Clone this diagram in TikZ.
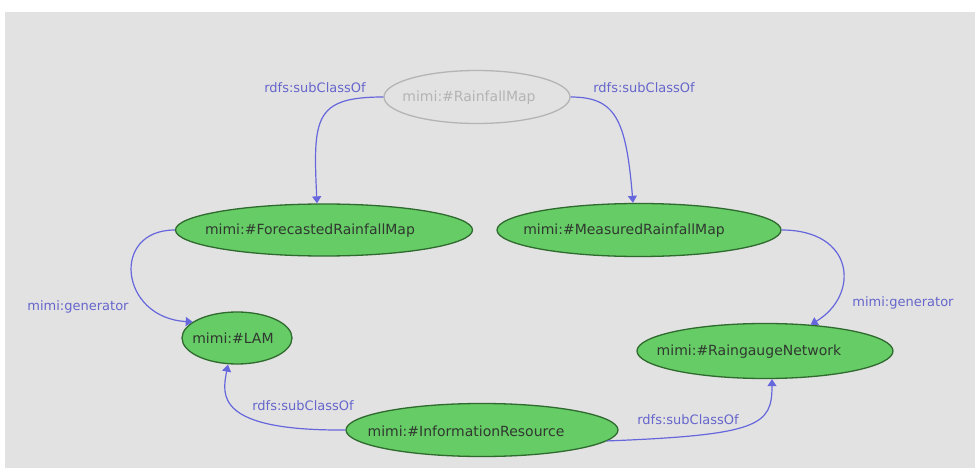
\documentclass[tikz,border=0pt]{standalone}
\usepackage{fontspec}
\setmainfont{DejaVu Sans}
\usetikzlibrary{shapes.geometric,arrows.meta}
\definecolor{bggray}{HTML}{E2E2E2}
\definecolor{nodegreen}{HTML}{66CC66}
\definecolor{nodeborder}{HTML}{2F6A2F}
\definecolor{edgeblue}{HTML}{6666DD}
\definecolor{labelblue}{HTML}{6666CC}
\definecolor{ghost}{HTML}{B4B4B4}
\definecolor{nodetext}{HTML}{303830}
\tikzset{
  gnode/.style={ellipse, draw=nodeborder, fill=nodegreen, line width=1.3pt, inner sep=0pt},
  hnode/.style={ellipse, draw=ghost, fill=bggray, line width=1.3pt, inner sep=0pt},
  ntext/.style={inner sep=0pt, text=nodetext, font=\fontsize{14}{16}\selectfont},
  htext/.style={inner sep=0pt, text=ghost, font=\fontsize{14}{16}\selectfont},
  elabel/.style={inner sep=0pt, text=labelblue, font=\fontsize{13}{15}\selectfont},
  edge/.style={draw=edgeblue, line width=1.2pt, -{Triangle[length=7pt,width=9pt]}}
}
\begin{document}
\begin{tikzpicture}[x=1pt,y=-1pt]
\useasboundingbox (0,0) rectangle (978,468);
\fill[white] (0,0) rectangle (978,468);
\fill[bggray] (5,12) rectangle (975,468);

% nodes (ellipses)
\node[hnode, minimum width=186pt, minimum height=53pt] (rm) at (477,97) {};
\node[gnode, minimum width=297pt, minimum height=52pt] (fc) at (324,230) {};
\node[gnode, minimum width=284pt, minimum height=53pt] (mr) at (639,230) {};
\node[gnode, minimum width=110pt, minimum height=52pt] (lam) at (237,338) {};
\node[gnode, minimum width=256pt, minimum height=55pt] (rg) at (765,351) {};
\node[gnode, minimum width=272pt, minimum height=53pt] (ir) at (482,430) {};

% node texts
\node[htext] (rmt) at (469,98) {mimi:\#RainfallMap};
\node[ntext] (fct) at (310,231) {mimi:\#ForecastedRainfallMap};
\node[ntext] (mrt) at (624,231) {mimi:\#MeasuredRainfallMap};
\node[ntext] (lamt) at (233,338) {mimi:\#LAM};
\node[ntext] (rgt) at (749,352) {mimi:\#RaingaugeNetwork};
\node[ntext] (irt) at (466,431) {mimi:\#InformationResource};

% edges
\draw[edge] (rm.west) .. controls (314,97) and (313,118) .. ([xshift=-7pt]fc.north);
\draw[edge] (rm.east) .. controls (616,97) and (626,120) .. ([xshift=-6pt]mr.north);
\draw[edge] (fc.west) .. controls (110,230) and (120,318) .. (lam.160);
\draw[edge] (mr.east) .. controls (855,230) and (860,295) .. (rg.30);
\draw[edge] (ir.west) .. controls (215,431) and (222,395) .. ([xshift=-9pt]lam.south);
\draw[edge] (ir.-5) .. controls (760,435) and (772,425) .. ([xshift=7pt]rg.south);

% edge labels
\node[elabel] (l1) at (315,88) {rdfs:subClassOf};
\node[elabel] (l2) at (644,88) {rdfs:subClassOf};
\node[elabel] (l3) at (78,307) {mimi:generator};
\node[elabel] (l4) at (903,303) {mimi:generator};
\node[elabel] (l5) at (303,406) {rdfs:subClassOf};
\node[elabel] (l6) at (688,420) {rdfs:subClassOf};
\end{tikzpicture}
\end{document}
